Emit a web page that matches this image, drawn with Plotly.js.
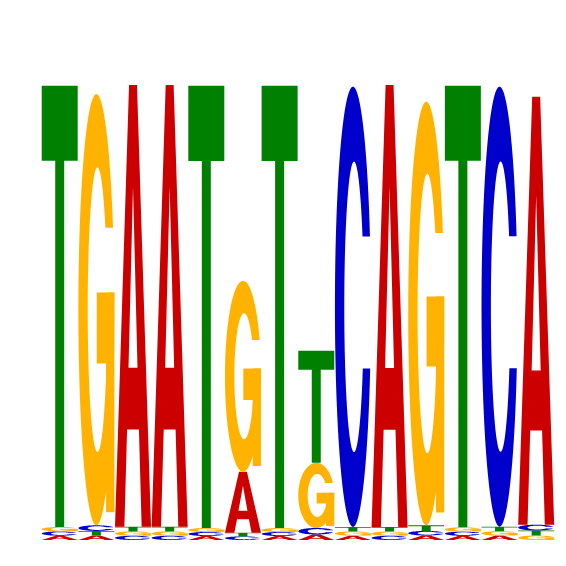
<!DOCTYPE html>
<html>
<head>
<meta charset="utf-8">
<script src="https://cdn.plot.ly/plotly-3.0.1.min.js"></script>
<style>html,body{margin:0;padding:0;background:#fff;}#chart{width:566px;height:566px;}</style>
</head>
<body>
<div id="chart"></div>
<script>
// Sequence logo data: information (bits) carried by each base at each position
const positions = [1,2,3,4,5,6,7,8,9,10,11,12,13,14];
const bases = ["A","C","G","T"];
const heightA = [0.0185,0.0194,1.904,1.904,0.0172,0.263,0.0172,0.0237,0.0185,1.905,0.0194,0.0181,0.0190,1.845];
const heightC = [0.0185,0.0241,0.0181,0.0181,0.0172,0.0155,0.0172,0.0280,1.898,0.0181,0.0198,0.0181,1.897,0.0250];
const heightG = [0.0190,1.859,0.0190,0.0190,0.0172,0.823,0.0172,0.281,0.0185,0.0185,1.826,0.0185,0.0190,0.0194];
const heightT = [1.902,0.0198,0.0203,0.0203,1.906,0.0159,1.906,0.483,0.0190,0.0194,0.0241,1.903,0.0194,0.0216];
const baseColors = {A:"#CC0000", C:"#0000CC", G:"#FFB300", T:"#008000"};

const heights = {A:heightA, C:heightC, G:heightG, T:heightT};
const HALF_W = 0.491;

function ell(cx, cy, rx, ry, t){ return [cx + rx*Math.cos(t), cy + ry*Math.sin(t)]; }
function arc(cx, cy, rx, ry, t0, t1, n){
  const pts = [];
  for (let i=0;i<=n;i++){ pts.push(ell(cx,cy,rx,ry,t0+(t1-t0)*i/n)); }
  return pts;
}
// glyph outlines in a unit box (u: 0..1 left-right, v: 0..1 bottom-top)
function glyph(letter){
  const polys = [];
  const OC=[0.5,0.5,0.5,0.5], IC=[0.53,0.5,0.27,0.33];
  if (letter==="T"){
    polys.push([[0,1],[1,1],[1,0.83],[0.625,0.83],[0.625,0],[0.375,0],[0.375,0.83],[0,0.83]]);
  } else if (letter==="A"){
    polys.push([[0,0],[0.39,1],[0.61,1],[1,0],[0.74,0],[0.665,0.22],[0.335,0.22],[0.26,0]]);
    polys.push([[0.375,0.36],[0.5,0.77],[0.625,0.36]]);
  } else if (letter==="C"){
    const vUp=0.66, vLo=0.36;
    const tUp=Math.asin((vUp-OC[1])/OC[3]), tLo=2*Math.PI+Math.asin((vLo-OC[1])/OC[3]);
    const pUp=Math.asin((vUp-IC[1])/IC[3]), pLo=2*Math.PI+Math.asin((vLo-IC[1])/IC[3]);
    polys.push(arc(OC[0],OC[1],OC[2],OC[3],tUp,tLo,80).concat(arc(IC[0],IC[1],IC[2],IC[3],pLo,pUp,80)));
  } else if (letter==="G"){
    const vUp=0.69, vBarT=0.54, vBarB=0.375, uBar=0.51;
    const tUp=Math.asin((vUp-OC[1])/OC[3]), tBar=2*Math.PI+Math.asin((vBarT-OC[1])/OC[3]);
    const pUp=Math.asin((vUp-IC[1])/IC[3])-2*Math.PI, pBar=Math.asin((vBarB-IC[1])/IC[3]);
    let pts = arc(OC[0],OC[1],OC[2],OC[3],tUp,tBar,80);
    pts.push([uBar,vBarT]); pts.push([uBar,vBarB]);
    pts = pts.concat(arc(IC[0],IC[1],IC[2],IC[3],pBar,pUp,80));
    polys.push(pts);
    polys.push([[0.77,0.03],[1,0.03],[1,vBarT],[0.77,vBarT]]);
  }
  return polys;
}
function toPath(poly, x0, x1, y0, y1){
  return poly.map((p,i)=>(i===0?"M":"L")+(x0+p[0]*(x1-x0)).toFixed(5)+","+(y0+p[1]*(y1-y0)).toFixed(5)).join(" ")+" Z";
}

const shapes = [];
positions.forEach((pos, i)=>{
  const stack = bases.map(b=>({b:b, h:heights[b][i]})).sort((a,c)=>a.h-c.h);
  let y = 0;
  stack.forEach(s=>{
    const polys = glyph(s.b);
    polys.forEach((poly, k)=>{
      // for A, the second polygon is the counter (hole): combine into the same path with evenodd
    });
    if (s.b==="A"){
      const d = toPath(polys[0], pos-HALF_W, pos+HALF_W, y, y+s.h) + " " + toPath(polys[1], pos-HALF_W, pos+HALF_W, y, y+s.h);
      shapes.push({type:"path", xref:"x", yref:"y", path:d, fillcolor:baseColors.A, line:{width:0}, fillrule:"evenodd", layer:"above"});
    } else {
      polys.forEach(poly=>{
        shapes.push({type:"path", xref:"x", yref:"y", path:toPath(poly, pos-HALF_W, pos+HALF_W, y, y+s.h), fillcolor:baseColors[s.b], line:{width:0}, layer:"above"});
      });
    }
    y += s.h;
  });
});

const layout = {
  width:566, height:566,
  margin:{l:0,r:0,t:0,b:0},
  paper_bgcolor:"#ffffff", plot_bgcolor:"#ffffff",
  showlegend:false,
  xaxis:{range:[-0.629,14.814], visible:false, fixedrange:true},
  yaxis:{range:[-0.1121,2.3276], visible:false, fixedrange:true},
  shapes:shapes
};
Plotly.newPlot("chart", [], layout, {staticPlot:true, displayModeBar:false});
</script>
</body>
</html>
